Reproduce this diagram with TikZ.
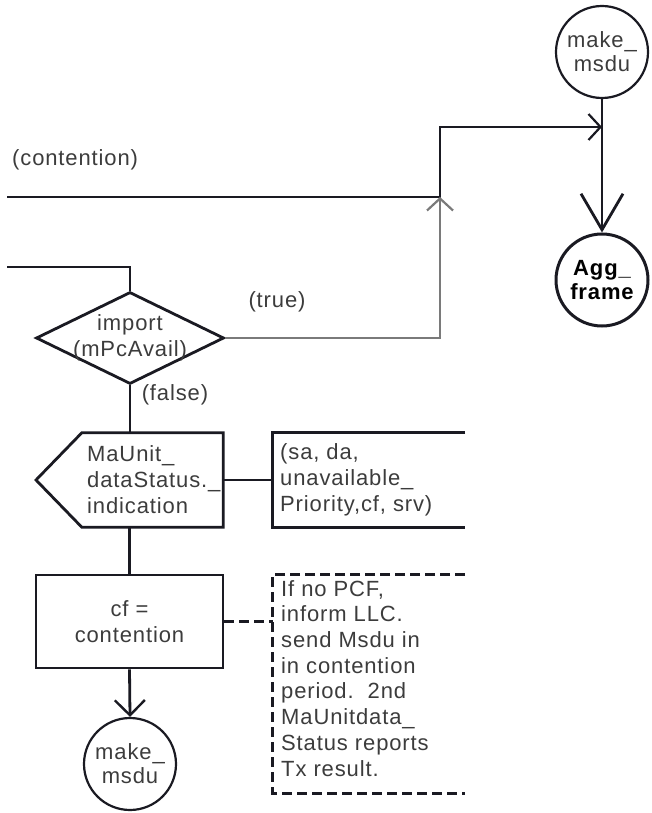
\documentclass[tikz,border=0pt]{standalone}
\usepackage{fontspec}
\setmainfont{Liberation Sans}[LetterSpace=4]
\usetikzlibrary{arrows.meta,shapes.geometric}

\definecolor{ink}{HTML}{1A1A22}
\definecolor{txtgray}{HTML}{3C3C3C}
\definecolor{thinline}{HTML}{7A7A7A}

\tikzset{
  main/.style={draw=ink, line width=2.8pt},
  thinflow/.style={draw=thinline, line width=1.4pt},
  txt/.style={text=txtgray, font=\fontsize{22}{26}\selectfont, inner sep=0pt},
  statebox/.style={circle, draw=ink, line width=2.2pt, minimum size=92pt, inner sep=0pt,
                   align=center, text=txtgray, font=\fontsize{22}{24}\selectfont},
  taskbox/.style={rectangle, draw=ink, line width=2.8pt, inner sep=0pt, align=center,
                  text=txtgray, font=\fontsize{22}{26}\selectfont},
  notedash/.style={dash pattern=on 10pt off 5pt},
  smallbarb/.style={-{Straight Barb[length=12pt, width=26pt, line width=2.2pt]}},
  midbarb/.style={-{Straight Barb[length=15pt, width=30pt, line width=2.4pt]}},
  bigbarb/.style={-{Straight Barb[length=36pt, width=42pt, line width=2.8pt]}},
}

\begin{document}
\begin{tikzpicture}[x=1pt, y=-1pt]
  \useasboundingbox (0,0) rectangle (651,813);

  % states and decision
  \node[statebox] (mk1) at (602,52) {make\_\\msdu};
  \node[statebox, line width=3pt, text=black, font=\fontsize{22}{24}\selectfont\bfseries] (agg) at (602,280) {Agg\_\\frame};
  \node[diamond, draw=ink, line width=2.8pt, minimum width=188pt, minimum height=92pt, inner sep=0pt] (imp) at (130,338) {};
  \node[txt, align=center] (impt) at (imp) {import\\(mPcAvail)};

  % output signal and its parameters
  \node[rectangle, minimum width=141pt, minimum height=94pt, inner sep=0pt] (ind) at (152.5,480) {};
  \node[txt, align=left, anchor=west] (indt) at (87,480) {MaUnit\_\\dataStatus.\_\\indication};
  \node[rectangle, minimum width=192pt, minimum height=94pt, inner sep=0pt] (par) at (369,480) {};
  \node[txt, align=left, anchor=west] (part) at (280,480) {(sa, da,\\unavailable\_\\Priority,cf, srv)};

  % task and comment
  \node[taskbox, minimum width=187pt, minimum height=93pt] (cf) at (129.5,621.5) {cf =\\contention};
  \node[rectangle, minimum width=192pt, minimum height=218pt, inner sep=0pt] (note) at (369,684) {};
  \node[txt, align=left, anchor=north west, font=\fontsize{22}{25.7}\selectfont] (notet) at (281,580)
    {If no PCF,\\inform LLC.\\send Msdu in\\in contention\\period.\ \ 2nd\\MaUnitdata\_\\Status reports\\Tx result.};

  \node[statebox] (mk2) at (130,764) {make\_\\msdu};

  % labels
  \node[txt, anchor=west] (lcont) at (12,160) {(contention)};
  \node[txt] (ltrue) at (277,302) {(true)};
  \node[txt] (lfalse) at (175,395) {(false)};

  % free ends and bends
  \coordinate (cst) at (7,197);
  \coordinate (jn) at (440,197);
  \coordinate (bend) at (440,127);
  \coordinate (lft) at (7,267);

  % outlines drawn by hand
  \draw[main, line join=miter] (ind.north west) -- (ind.north east) -- (ind.south east)
       -- (ind.south west) -- (36,480) -- cycle;
  \draw[main] (par.north east) -- (par.north west) -- (par.south west) -- (par.south east);
  \draw[main, notedash] (note.north east) -- (note.north west)
       -- (note.south west) -- (note.south east);

  % connectors
  \draw[main, smallbarb] (cst) -- (jn) -- (bend) -- (bend -| mk1.south);
  \draw[thinflow, smallbarb] (imp.east) -- (imp.east -| jn) -- (jn);
  \draw[main, bigbarb] (mk1) -- (agg);
  \draw[main] (lft) -- (imp.north |- lft) -- (imp.north);
  \draw[main] (imp.south) -- (imp.south |- ind.north);
  \draw[main] (ind.east) -- (par.west);
  \draw[main] (cf.north |- ind.south) -- (cf.north);
  \draw[main, notedash] (cf.east) -- (cf.east -| note.west);
  \draw[main, midbarb] (cf.south) -- (mk2.north);
\end{tikzpicture}
\end{document}
